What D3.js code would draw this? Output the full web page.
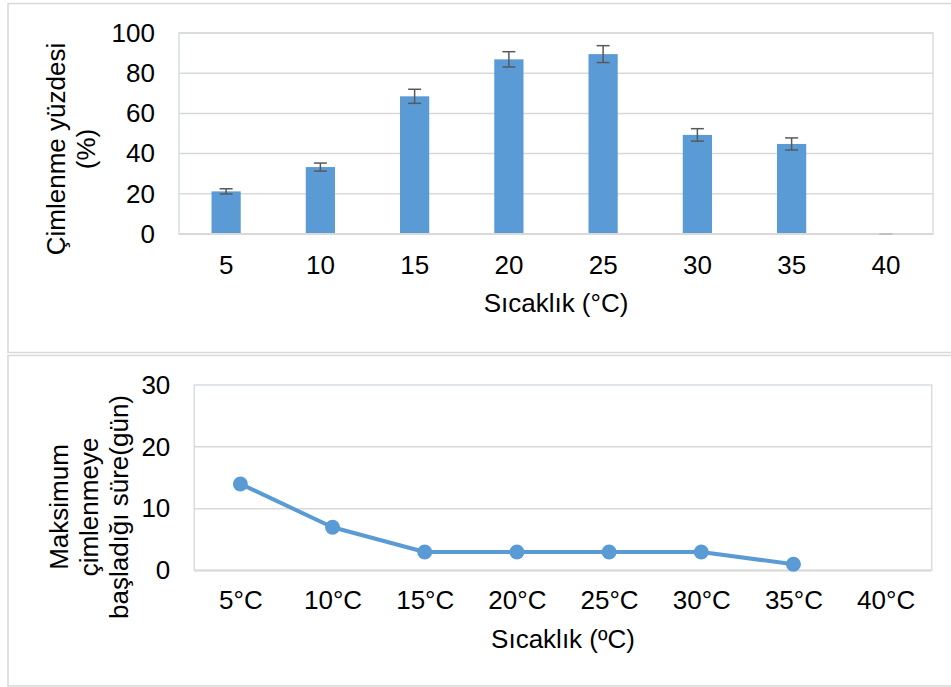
<!DOCTYPE html>
<html>
<head>
<meta charset="utf-8">
<script src="https://cdn.jsdelivr.net/npm/d3@7"></script>
<style>
  html, body { margin: 0; padding: 0; background: #fff; }
  svg { display: block; font-family: "Liberation Sans", Arial, sans-serif; }
</style>
</head>
<body>
<svg id="chart" width="951" height="687"></svg>
<script>
// Germination percentage by temperature (bar chart with error bars)
const barCategories = ["5", "10", "15", "20", "25", "30", "35", "40"];
const barValues = [21.2, 33.3, 68.5, 86.9, 89.5, 49.3, 44.8, 0];
const barErrors = [1.3, 2.0, 3.5, 3.8, 4.2, 3.1, 3.0, 0];
const barTicks = [0, 20, 40, 60, 80, 100];

// Days until maximum germination starts (line chart)
const lineCategories = ["5°C", "10°C", "15°C", "20°C", "25°C", "30°C", "35°C", "40°C"];
const lineValues = [14, 7, 3, 3, 3, 3, 1, null];
const lineTicks = [0, 10, 20, 30];

const blue = "#5b9bd5";
const grid = "#d9d9d9";
const frame = "#d6dce5";
const textColor = "#000";
const fontSize = 26;
const fontFamily = "Liberation Sans, Arial, sans-serif";

const svg = d3.select("#chart");

// Panel outlines
svg.append("rect").attr("x", 8).attr("y", 3.5).attr("width", 960).attr("height", 349)
  .attr("fill", "none").attr("stroke", grid).attr("stroke-width", 1.5);
svg.append("rect").attr("x", 8).attr("y", 355.5).attr("width", 960).attr("height", 330.5)
  .attr("fill", "none").attr("stroke", grid).attr("stroke-width", 1.5);

function drawFrame(g, x0, x1, y0, y1) {
  g.append("rect").attr("x", x0).attr("y", y0).attr("width", x1 - x0).attr("height", y1 - y0)
    .attr("fill", "none").attr("stroke", frame).attr("stroke-width", 1.5);
}

function styleTicks(sel) {
  sel.select(".domain").remove();
  sel.selectAll("text").attr("font-size", fontSize).attr("font-family", fontFamily).attr("fill", textColor);
}

// ---------- Top chart ----------
{
  const left = 179, right = 933, top = 33, bottom = 234;
  const g = svg.append("g");
  const x = d3.scaleBand().domain(barCategories).range([left, right]).paddingInner(0.69).paddingOuter(0.345);
  const y = d3.scaleLinear().domain([0, 100]).range([bottom, top]);

  drawFrame(g, left, right, top, bottom);

  // gridlines
  g.append("g").selectAll("line").data(barTicks.filter(t => t > 0)).join("line")
    .attr("x1", left).attr("x2", right)
    .attr("y1", d => y(d)).attr("y2", d => y(d))
    .attr("stroke", grid).attr("stroke-width", 1.5);

  // bars
  g.append("g").selectAll("rect").data(barValues).join("rect")
    .attr("x", (d, i) => x(barCategories[i]))
    .attr("width", x.bandwidth())
    .attr("y", d => y(d))
    .attr("height", d => y(0) - y(d))
    .attr("fill", blue);

  // baseline
  g.append("line").attr("x1", left).attr("x2", right).attr("y1", y(0)).attr("y2", y(0))
    .attr("stroke", grid).attr("stroke-width", 2);

  // error bars
  const eb = g.append("g").attr("stroke-width", 1.5);
  barValues.forEach((v, i) => {
    const cx = x(barCategories[i]) + x.bandwidth() / 2;
    const e = barErrors[i];
    const capW = 6.5;
    const col = v === 0 ? "#bfbfbf" : "#595959";
    eb.append("line").attr("x1", cx).attr("x2", cx).attr("y1", y(v + e)).attr("y2", y(v - e)).attr("stroke", col);
    eb.append("line").attr("x1", cx - capW).attr("x2", cx + capW).attr("y1", y(v + e)).attr("y2", y(v + e)).attr("stroke", col);
    eb.append("line").attr("x1", cx - capW).attr("x2", cx + capW).attr("y1", y(v - e)).attr("y2", y(v - e)).attr("stroke", col);
  });

  // tick labels
  g.append("g").attr("transform", `translate(${left},0)`)
    .call(d3.axisLeft(y).tickValues(barTicks).tickSize(0).tickPadding(24)).call(styleTicks);
  g.append("g").attr("transform", `translate(0,${bottom})`)
    .call(d3.axisBottom(x).tickSize(0).tickPadding(22)).call(styleTicks);

  // axis titles
  g.append("text").attr("x", (left + right) / 2).attr("y", 312).attr("text-anchor", "middle")
    .attr("font-size", fontSize).attr("fill", textColor).text("Sıcaklık (°C)");
  const yt = g.append("text").attr("transform", "translate(0,149) rotate(-90)")
    .attr("text-anchor", "middle").attr("font-size", fontSize).attr("fill", textColor);
  yt.append("tspan").attr("x", 0).attr("y", 65).text("Çimlenme yüzdesi");
  yt.append("tspan").attr("x", 0).attr("y", 95).text("(%)");
}

// ---------- Bottom chart ----------
{
  const left = 194.3, right = 931.7, top = 385, bottom = 570.5;
  const g = svg.append("g");
  const x = d3.scalePoint().domain(lineCategories).range([left, right]).padding(0.5);
  const y = d3.scaleLinear().domain([0, 30]).range([bottom, top]);

  drawFrame(g, left, right, top, bottom);

  g.append("g").selectAll("line").data(lineTicks.filter(t => t > 0 && t < 30)).join("line")
    .attr("x1", left).attr("x2", right)
    .attr("y1", d => y(d)).attr("y2", d => y(d))
    .attr("stroke", grid).attr("stroke-width", 1.5);

  g.append("line").attr("x1", left).attr("x2", right).attr("y1", y(0)).attr("y2", y(0))
    .attr("stroke", grid).attr("stroke-width", 2);

  const pts = lineValues.map((v, i) => ({ c: lineCategories[i], v })).filter(d => d.v !== null);

  const line = d3.line().x(d => x(d.c)).y(d => y(d.v));
  g.append("path").datum(pts).attr("d", line)
    .attr("fill", "none").attr("stroke", blue).attr("stroke-width", 4)
    .attr("stroke-linejoin", "round").attr("stroke-linecap", "round");

  g.append("g").selectAll("circle").data(pts).join("circle")
    .attr("cx", d => x(d.c)).attr("cy", d => y(d.v)).attr("r", 7.5)
    .attr("fill", blue);

  g.append("g").attr("transform", `translate(${left},0)`)
    .call(d3.axisLeft(y).tickValues(lineTicks).tickSize(0).tickPadding(24)).call(styleTicks);
  g.append("g").attr("transform", `translate(0,${bottom})`)
    .call(d3.axisBottom(x).tickSize(0).tickPadding(20)).call(styleTicks);

  g.append("text").attr("x", (left + right) / 2).attr("y", 648).attr("text-anchor", "middle")
    .attr("font-size", fontSize).attr("fill", textColor).text("Sıcaklık (ºC)");
  const yt = g.append("text").attr("transform", "translate(0,507) rotate(-90)")
    .attr("text-anchor", "middle").attr("font-size", fontSize).attr("fill", textColor);
  yt.append("tspan").attr("x", 0).attr("y", 68).text("Maksimum");
  yt.append("tspan").attr("x", 0).attr("y", 98).text("çimlenmeye");
  yt.append("tspan").attr("x", 0).attr("y", 128).text("başladığı süre(gün)");
}
</script>
</body>
</html>
